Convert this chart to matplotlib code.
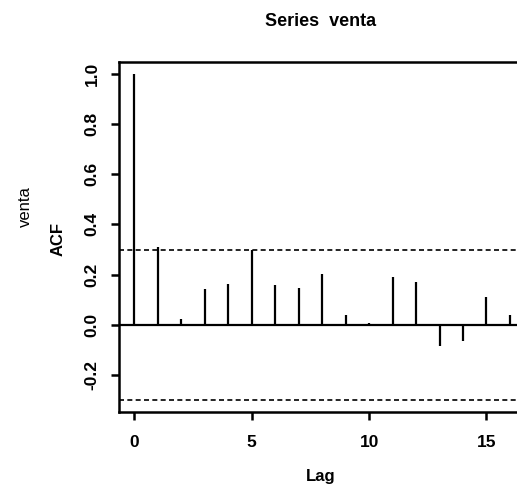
import matplotlib
matplotlib.use("Agg")
import matplotlib.pyplot as plt

lags = list(range(0, 17))
acf_values = [1.0, 0.309, 0.023, 0.143, 0.163, 0.298, 0.159, 0.148, 0.203,
              0.040, 0.010, 0.190, 0.172, -0.083, -0.064, 0.113, 0.040]
conf_bound = 0.298
x_ticks = [0, 5, 10, 15]
y_ticks = [-0.2, 0.0, 0.2, 0.4, 0.6, 0.8, 1.0]
y_tick_labels = ["-0.2", "0.0", "0.2", "0.4", "0.6", "0.8", "1.0"]

plt.rcParams['font.family'] = ['Liberation Sans', 'DejaVu Sans']
plt.rcParams['font.weight'] = 'bold'

W, H = 517, 487
fig = plt.figure(figsize=(W / 100, H / 100), dpi=100)
fig.patch.set_facecolor('white')

left_px, right_px, top_px, bottom_px = 119.3, 525.0, 61.7, 412.3
ax = fig.add_axes([left_px / W, 1 - bottom_px / H,
                   (right_px - left_px) / W, (bottom_px - top_px) / H])
ax.set_xlim(-0.64, 16.64)
ax.set_ylim(-0.347, 1.047)

ax.vlines(lags, 0, acf_values, color='black', linewidth=1.6)
ax.axhline(0, color='black', linewidth=1.6)
for b in (conf_bound, -conf_bound):
    ax.axhline(b, color='black', linewidth=1.2, linestyle=(0, (3, 2)))

for s in ax.spines.values():
    s.set_linewidth(1.8)

ax.set_xticks(x_ticks)
ax.set_xticklabels([str(t) for t in x_ticks])
ax.set_yticks(y_ticks)
ax.set_yticklabels(y_tick_labels, rotation=90, va='center')
ax.tick_params(axis='both', length=6, width=1.8, labelsize=12.5)
ax.tick_params(axis='x', pad=10)
ax.tick_params(axis='y', pad=8)

fig.text(321 / W, 1 - 21 / H, "Series  venta", ha='center', va='center',
         fontsize=13, fontweight='bold')
fig.text(321 / W, 1 - 476 / H, "Lag", ha='center', va='center',
         fontsize=12, fontweight='bold')
fig.text(58 / W, 1 - 239 / H, "ACF", ha='center', va='center',
         fontsize=12, fontweight='bold', rotation=90)
fig.text(25 / W, 1 - 207 / H, "venta", ha='center', va='center',
         fontsize=12, fontweight='normal', rotation=90)

fig.savefig("out.png", dpi=100, facecolor='white')
